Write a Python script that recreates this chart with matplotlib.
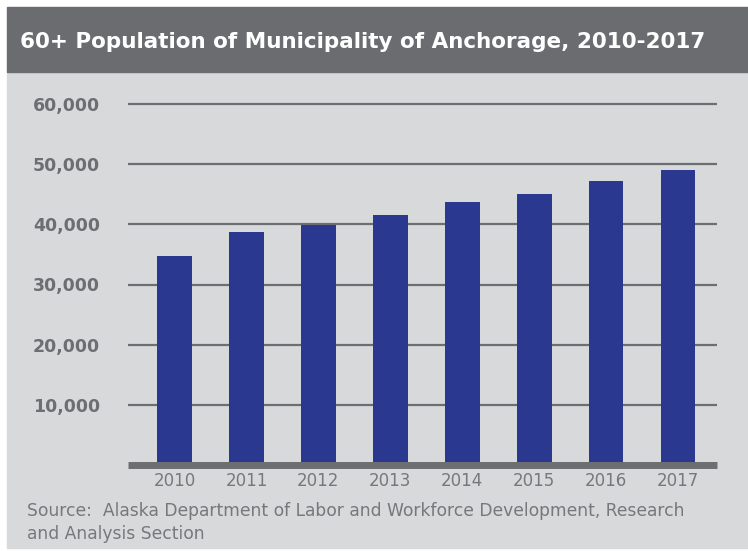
import matplotlib.pyplot as plt
from matplotlib.patches import Rectangle

years = ['2010', '2011', '2012', '2013', '2014', '2015', '2016', '2017']
population = [34700, 38650, 39950, 41500, 43650, 45000, 47150, 49000]
yticks = [10000, 20000, 30000, 40000, 50000, 60000]

W, H = 748, 551
barColor = '#2b388f'
bgGray = '#d8d9db'
bandGray = '#6b6c70'
lineGray = '#6d6e71'
textGray = '#77787b'

fig = plt.figure(figsize=(W / 100, H / 100), dpi=100)
fig.patch.set_facecolor('white')

# background panels
fig.patches.append(Rectangle((7 / W, 1 - 548 / H), 1, (548 - 72) / H,
                             transform=fig.transFigure, color=bgGray, zorder=-5))
fig.patches.append(Rectangle((7 / W, 1 - 72 / H), 1, (72 - 7) / H,
                             transform=fig.transFigure, color=bandGray, zorder=-5))

ax = fig.add_axes([128 / W, (H - 465) / H, (717 - 128) / W, (465 - 104) / H])
ax.set_facecolor('none')
ax.set_zorder(2)

x = list(range(len(years)))
ax.bar(x, population, width=0.48, color=barColor, zorder=3)

ax.set_xlim(-0.647, 7.54)
ax.set_ylim(0, 60000)
ax.set_yticks(yticks)
ax.set_yticklabels([f"{v:,}" for v in yticks])
ax.set_xticks(x)
ax.set_xticklabels(years)

for v in yticks:
    ax.axhline(v, color=lineGray, lw=1.6, zorder=1, clip_on=False, solid_capstyle='butt')
ax.axhline(0, color=lineGray, lw=5, zorder=4, clip_on=False, solid_capstyle='butt')

for s in ax.spines.values():
    s.set_visible(False)
ax.tick_params(axis='y', length=0, pad=20, labelsize=12.5, labelcolor=lineGray)
ax.tick_params(axis='x', length=0, pad=5, labelsize=12, labelcolor=textGray)
for lab in ax.get_yticklabels():
    lab.set_fontweight('bold')

fig.text(20 / W, 1 - 42 / H, '60+ Population of Municipality of Anchorage, 2010-2017',
         color='white', fontsize=15.5, fontweight='bold', va='center', ha='left')

fig.text(27 / W, 1 - 522.5 / H,
         'Source:  Alaska Department of Labor and Workforce Development, Research\nand Analysis Section',
         color=textGray, fontsize=12.3, va='center', ha='left', linespacing=1.3)

fig.savefig('out.png', dpi=100, facecolor=fig.get_facecolor())
